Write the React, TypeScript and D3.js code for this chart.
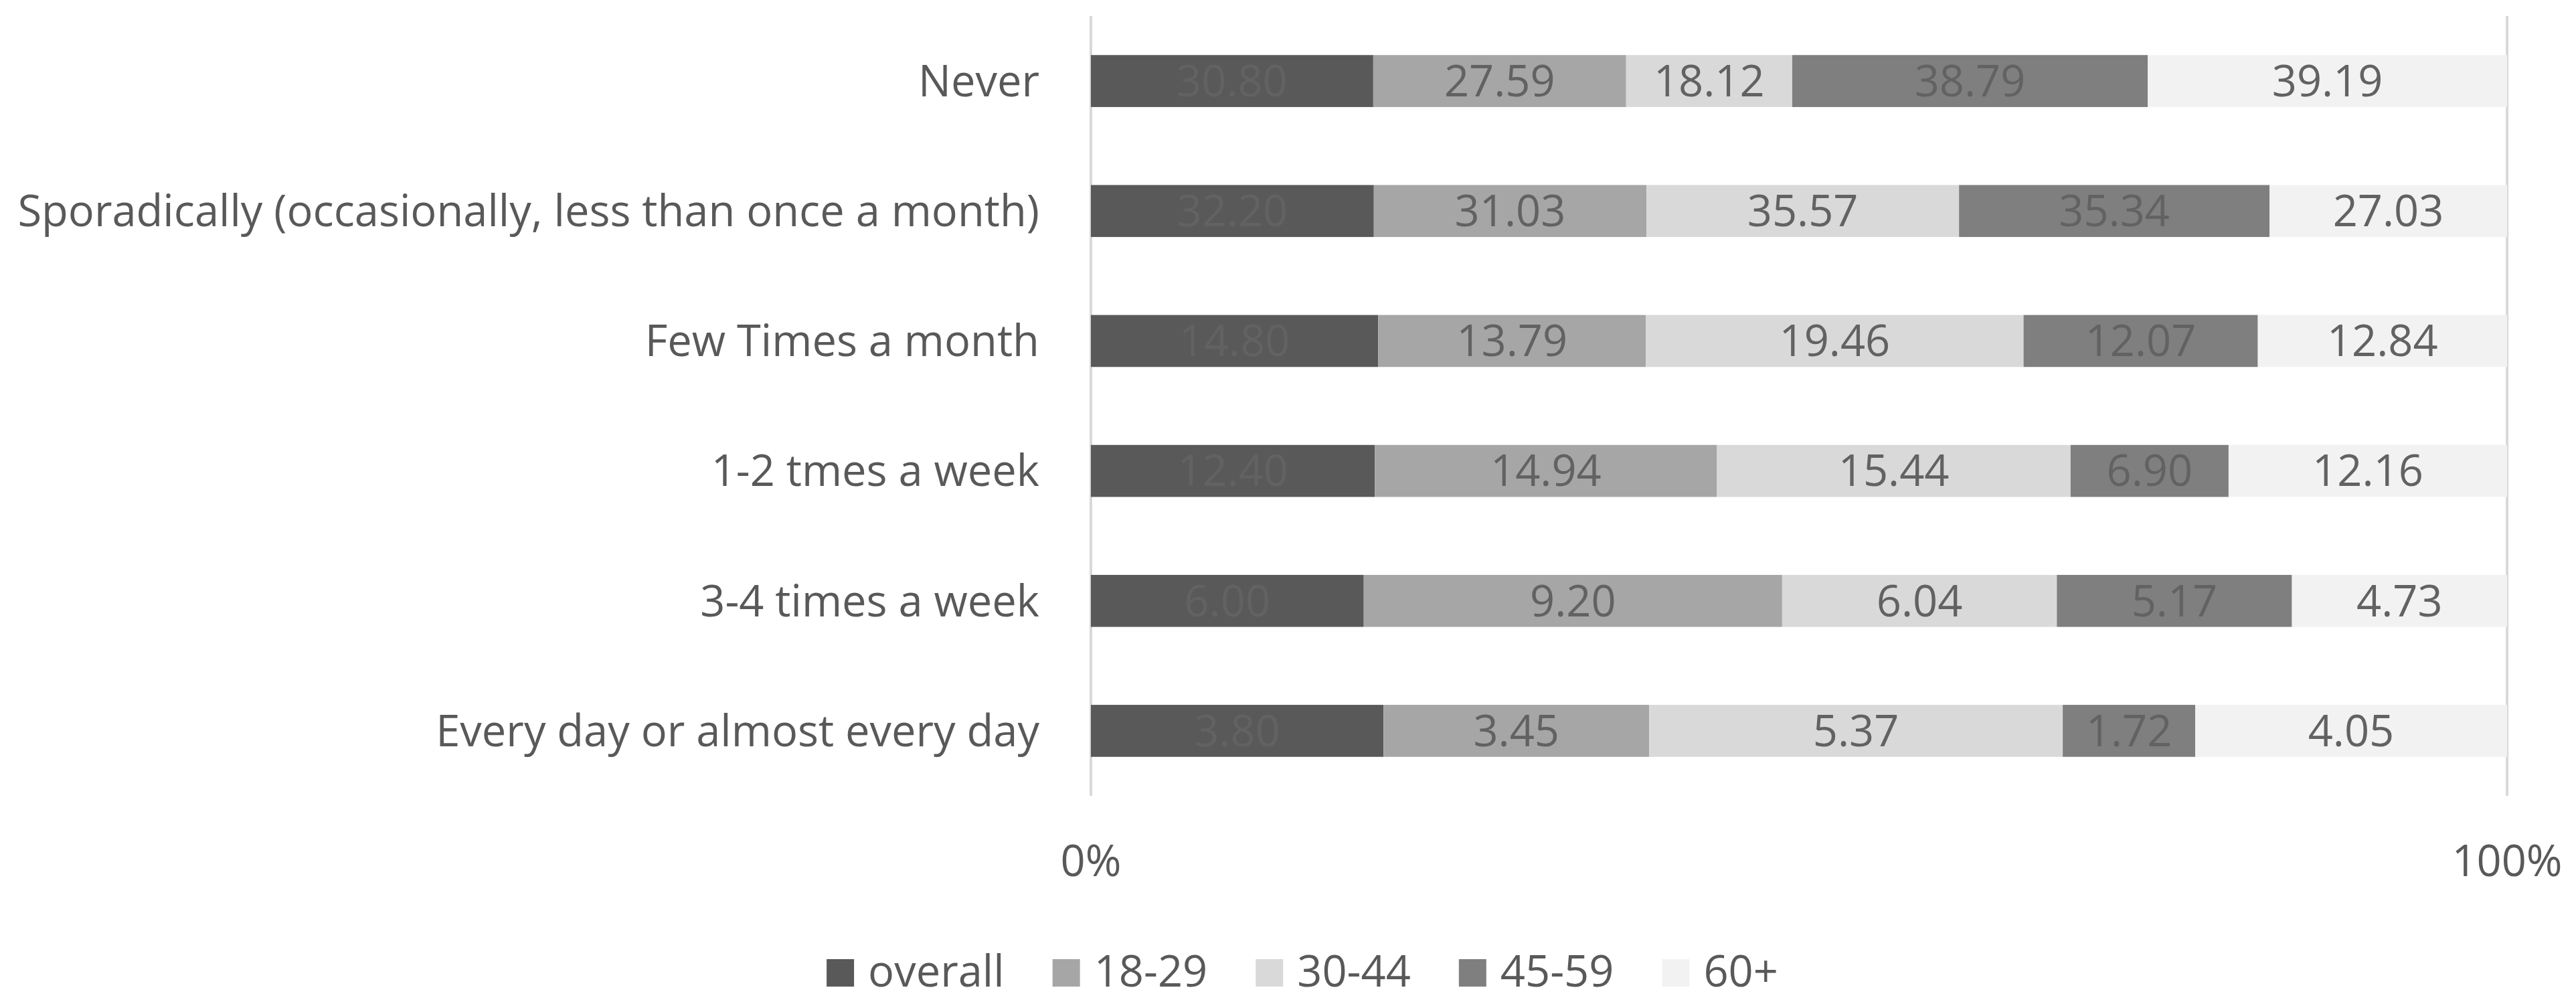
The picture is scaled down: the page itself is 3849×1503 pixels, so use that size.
import React from "react";
import * as d3 from "d3";

const categories = [
  "Never",
  "Sporadically (occasionally, less than once a month)",
  "Few Times a month",
  "1-2 tmes a week",
  "3-4 times a week",
  "Every day or almost every day",
];
const seriesNames = ["overall", "18-29", "30-44", "45-59", "60+"];
const overall = [30.8, 32.2, 14.8, 12.4, 6.0, 3.8];
const age18_29 = [27.59, 31.03, 13.79, 14.94, 9.2, 3.45];
const age30_44 = [18.12, 35.57, 19.46, 15.44, 6.04, 5.37];
const age45_59 = [38.79, 35.34, 12.07, 6.9, 5.17, 1.72];
const age60plus = [39.19, 27.03, 12.84, 12.16, 4.73, 4.05];
const tickLabels = ["0%", "100%"];

const colors = ["#595959", "#a6a6a6", "#d9d9d9", "#7f7f7f", "#f2f2f2"];
const W = 3849;
const H = 1503;
const FONT = "'Open Sans', Lato, sans-serif";
const FS = 65;
const TEXT = "#595959";
const LABEL = "#626262";

function measure(s: string): number {
  if (typeof document === "undefined") return s.length * FS * 0.5;
  const c = document.createElement("canvas").getContext("2d");
  if (!c) return s.length * FS * 0.5;
  c.font = `${FS}px 'Open Sans', Lato, sans-serif`;
  return c.measureText(s).width;
}

export default function App() {
  const seriesValues = [overall, age18_29, age30_44, age45_59, age60plus];
  const rows = categories.map((c, i) => {
    const r: any = { cat: c };
    seriesNames.forEach((s, k) => (r[s] = seriesValues[k][i]));
    return r;
  });
  const stacked = d3.stack().keys(seriesNames).offset(d3.stackOffsetExpand)(rows);

  const x = d3.scaleLinear().domain([0, 1]).range([1630, 3746]);
  const y = d3.scaleBand().domain(categories).range([24, 1189]).paddingInner(0.6).paddingOuter(0.3);

  // legend layout
  const sq = 41;
  const gapSq = 21;
  const gapItem = 72;
  const itemW = seriesNames.map((s) => sq + gapSq + measure(s));
  const totalW = d3.sum(itemW) + gapItem * (seriesNames.length - 1);
  let lx = 1946 - totalW / 2;
  const legendItems = seriesNames.map((s, k) => {
    const item = { s, x: lx, k };
    lx += itemW[k] + gapItem;
    return item;
  });

  return (
    <svg
      width={W}
      height={H}
      style={{ position: "absolute", left: 0, top: 0, background: "#fff" }}
      fontFamily={FONT}
    >
      <rect width={W} height={H} fill="#fff" />
      {x.ticks(1).map((t, i) => (
        <g key={i}>
          <line x1={x(t)} x2={x(t)} y1={24} y2={1189} stroke="#d9d9d9" strokeWidth={4} />
          <text x={x(t)} y={1309} textAnchor="middle" fontSize={FS} fill={TEXT}>
            {tickLabels[i]}
          </text>
        </g>
      ))}
      {stacked.map((layer, k) => (
        <g key={k}>
          {layer.map((d, i) => {
            const x0 = x(d[0]);
            const x1 = x(d[1]);
            const yy = y(categories[i])!;
            return (
              <g key={i}>
                <rect x={x0} y={yy} width={x1 - x0} height={y.bandwidth()} fill={colors[k]} />
                <text
                  x={(x0 + x1) / 2}
                  y={yy + y.bandwidth() / 2}
                  dy="0.35em"
                  textAnchor="middle"
                  fontSize={FS}
                  fill={LABEL}
                >
                  {seriesValues[k][i].toFixed(2)}
                </text>
              </g>
            );
          })}
        </g>
      ))}
      {categories.map((c) => (
        <text
          key={c}
          x={1553}
          y={y(c)! + y.bandwidth() / 2}
          dy="0.35em"
          textAnchor="end"
          fontSize={FS}
          fill={TEXT}
        >
          {c}
        </text>
      ))}
      {legendItems.map((it) => (
        <g key={it.s}>
          <rect x={it.x} y={1433} width={sq} height={sq} fill={colors[it.k]} />
          <text x={it.x + sq + gapSq} y={1474} fontSize={FS} fill={TEXT}>
            {it.s}
          </text>
        </g>
      ))}
    </svg>
  );
}
